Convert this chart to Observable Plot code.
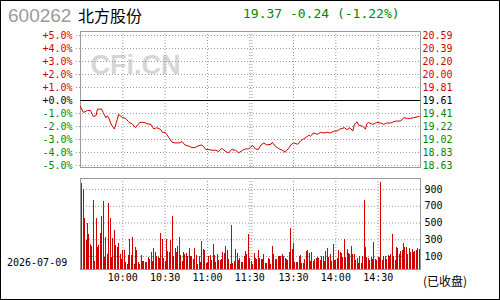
<!DOCTYPE html>
<html><head><meta charset="utf-8">
<script src="https://cdn.jsdelivr.net/npm/d3@7"></script>
<script src="https://cdn.jsdelivr.net/npm/@observablehq/plot@0.6"></script>
<style>
html,body{margin:0;padding:0;background:#fff;}
#root{position:relative;width:500px;height:300px;overflow:hidden;background:#fff;}
#border{position:absolute;left:0;top:0;width:500px;height:300px;box-sizing:border-box;border:1px solid #000;z-index:10;}
.abs{position:absolute;white-space:nowrap;line-height:1;}
</style></head><body>
<div id="root"><div id="border"></div></div>
<script>
// ---- data ----
const code = "600262";
const stockName = "北方股份";
const quote = "19.37 -0.24 (-1.22%)";
const dateLabel = "2026-07-09";
const closedLabel = "(已收盘)";
const prevClose = 19.61;

const pctTicks = [5, 4, 3, 2, 1, 0, -1, -2, -3, -4, -5];
const leftLabels = ["+5.0%", "+4.0%", "+3.0%", "+2.0%", "+1.0%", "+0.0%", "-1.0%", "-2.0%", "-3.0%", "-4.0%", "-5.0%"];
const rightLabels = ["20.59", "20.39", "20.20", "20.00", "19.81", "19.61", "19.41", "19.22", "19.02", "18.83", "18.63"];

const timeTicks = [30, 60, 90, 120, 151, 181, 211];
const timeLabels = ["10:00", "10:30", "11:00", "11:30", "13:30", "14:00", "14:30"];
const timeGrid = [30, 60, 90, 120, 121.5, 151, 181, 211];

const volTicks = [900, 700, 500, 300, 100];
const volLabels = ["900", "700", "500", "300", "100"];

// minute index (0 = 9:30) and price
const priceIdx = [0,2,5,7,9,11,12,15,16,18,19,20,22,24,26,27,30,32,34,37,39,42,45,47,50,52,54,57,58,60,63,65,67,70,72,74,77,79,81,84,86,89,91,93,96,98,100,103,105,107,110,112,115,117,119,122,124,126,128,130,132,135,136,138,141,143,145,148,149,151,154,156,158,161,162,163,164,165,168,170,172,175,177,180,182,184,187,189,191,193,194,195,196,197,200,202,203,204,207,209,210,213,215,217,220,222,224,227,229,232,234,236,240];
const prices = [19.52,19.43,19.46,19.46,19.37,19.38,19.48,19.48,19.43,19.35,19.38,19.35,19.24,19.18,19.32,19.40,19.35,19.34,19.29,19.25,19.20,19.28,19.28,19.26,19.25,19.18,19.20,19.17,19.13,19.13,19.04,18.98,18.97,18.97,18.99,18.94,18.92,18.90,18.90,18.93,18.94,18.87,18.87,18.86,18.86,18.84,18.89,18.84,18.82,18.87,18.86,18.82,18.86,18.88,18.88,18.93,18.88,18.87,18.94,18.97,18.94,18.95,18.98,18.92,18.88,18.86,18.83,18.90,18.94,18.97,18.95,19.00,19.03,19.07,19.09,19.07,19.09,19.12,19.10,19.13,19.12,19.13,19.12,19.15,19.15,19.18,19.20,19.17,19.20,19.15,19.24,19.27,19.29,19.24,19.22,19.18,19.26,19.28,19.25,19.27,19.28,19.27,19.25,19.27,19.27,19.29,19.30,19.30,19.35,19.34,19.34,19.35,19.37];

// per-minute volume (index = minute)
const volume = [
12,967,900,550,291,490,359,243,219,768,
40,550,211,231,371,577,757,92,323,120,
729,550,92,311,410,231,211,251,124,60,
172,172,30,5,112,299,112,327,5,211,
172,30,5,112,40,40,24,24,92,60,
151,40,195,151,100,92,80,371,303,72,
40,303,160,144,291,577,100,199,151,223,
327,112,40,144,128,132,104,191,100,100,
60,195,112,5,100,24,279,183,172,12,
24,100,112,52,243,112,24,124,52,48,
60,144,132,219,172,64,5,470,20,40,
183,136,52,72,24,24,96,160,124,359,
80,40,
0,140,80,60,172,80,64,64,124,20,
20,72,64,4,219,124,64,60,104,100,
100,124,100,72,64,50,148,438,183,251,
24,24,24,104,112,20,20,64,164,172,
132,44,144,44,64,80,84,80,52,104,
100,44,160,191,84,124,44,243,52,52,
72,172,144,140,84,303,84,183,132,124,
219,124,124,52,72,20,100,20,100,768,
211,92,72,52,92,60,271,60,52,92,
92,987,52,100,100,64,112,104,124,363,
100,52,211,191,124,160,172,251,203,211,
124,199,144,183,150,160,170,200,183
];

// ---- style ----
const RED = "#d00000", GREEN = "#008800", GRID = "#999", FRAME = "#999";
const MONO = "'DejaVu Sans Mono', monospace";
const pctMin = -5.154, pctMax = 5.308;
const volMin = -55, volMax = 1031;

const root = document.getElementById("root");
function addText(txt, css) {
  const d = document.createElement("div");
  d.className = "abs";
  d.textContent = txt;
  Object.assign(d.style, css);
  root.appendChild(d);
}
function place(svg, top) {
  svg.style.position = "absolute";
  svg.style.left = "0px";
  svg.style.top = top + "px";
  svg.style.background = "transparent";
  svg.style.overflow = "visible";
  root.appendChild(svg);
}

const lab = (ticks, labels) => d => labels[ticks.indexOf(d)];
const pos = pctTicks.filter(d => d > 0), zero = [0], neg = pctTicks.filter(d => d < 0);
const priceData = priceIdx.map((i, k) => ({i, pct: (prices[k] / prevClose - 1) * 100}));
const ax = {tickSize: 0, label: null};

const pricePlot = Plot.plot({
  width: 500, height: 172,
  marginLeft: 80, marginRight: 80, marginTop: 31, marginBottom: 5,
  x: {domain: [0, 241], axis: null, label: null},
  y: {domain: [pctMin, pctMax], axis: null, label: null},
  style: {fontFamily: MONO, fontSize: "10px", background: "transparent", overflow: "visible"},
  marks: [
    Plot.text(["CFi.CN"], {frameAnchor: "top-left", textAnchor: "start", lineAnchor: "top", dx: 10, dy: 23,
      fontSize: 27, fontWeight: "bold", fontFamily: "'Liberation Sans', Arial, sans-serif", fill: "#d6d6d6", letterSpacing: 1}),
    Plot.ruleY(pctTicks.filter(d => d !== 0), {stroke: GRID, strokeDasharray: "1,2", insetLeft: -4}),
    Plot.ruleX(timeGrid, {stroke: GRID, strokeDasharray: "1,2"}),
    Plot.frame({stroke: FRAME}),
    Plot.ruleY(zero, {stroke: "#000"}),
    Plot.line(priceData, {x: "i", y: "pct", stroke: RED, strokeWidth: 1}),
    Plot.axisY({...ax, anchor: "left", ticks: pos, tickPadding: 8, tickFormat: lab(pctTicks, leftLabels), fill: RED}),
    Plot.axisY({...ax, anchor: "left", ticks: zero, tickPadding: 8, tickFormat: lab(pctTicks, leftLabels), fill: "#000"}),
    Plot.axisY({...ax, anchor: "left", ticks: neg, tickPadding: 8, tickFormat: lab(pctTicks, leftLabels), fill: GREEN}),
    Plot.axisY({...ax, anchor: "right", ticks: pos, tickPadding: 2, tickFormat: lab(pctTicks, rightLabels), fill: RED}),
    Plot.axisY({...ax, anchor: "right", ticks: zero, tickPadding: 2, tickFormat: lab(pctTicks, rightLabels), fill: "#000"}),
    Plot.axisY({...ax, anchor: "right", ticks: neg, tickPadding: 2, tickFormat: lab(pctTicks, rightLabels), fill: GREEN})
  ]
});
place(pricePlot, 0);

const volPlot = Plot.plot({
  width: 500, height: 128,
  marginLeft: 80, marginRight: 80, marginTop: 6, marginBottom: 31,
  x: {domain: [0, 241], axis: null, label: null},
  y: {domain: [volMin, volMax], axis: null, label: null},
  style: {fontFamily: MONO, fontSize: "10px", background: "transparent", overflow: "visible"},
  marks: [
    Plot.ruleY(volTicks, {stroke: GRID, strokeDasharray: "1,2"}),
    Plot.ruleX(timeGrid, {stroke: GRID, strokeDasharray: "1,2"}),
    Plot.ruleX(volume, {x: (d, i) => i, y1: volMin, y2: d => d, stroke: RED, strokeWidth: 1, shapeRendering: "crispEdges"}),
    Plot.frame({stroke: FRAME}),
    Plot.axisY({...ax, anchor: "right", ticks: volTicks, tickPadding: 4, tickFormat: lab(volTicks, volLabels), fill: "#000"}),
    Plot.axisX({...ax, anchor: "bottom", ticks: timeTicks, tickPadding: 4, tickFormat: lab(timeTicks, timeLabels), fill: "#000"})
  ]
});
place(volPlot, 172);

addText(code, {left: "8px", top: "6px", fontFamily: "'Liberation Sans', Arial, sans-serif", fontSize: "19px", color: "#9a9a9a"});
addText(stockName, {left: "78px", top: "7px", fontFamily: "'Noto Sans CJK SC', sans-serif", fontSize: "16px", color: "#000"});
addText(quote, {left: "243px", top: "7px", fontFamily: MONO, fontSize: "13px", color: GREEN});
addText(dateLabel, {left: "7px", top: "258px", fontFamily: MONO, fontSize: "10px", color: "#000"});
addText(closedLabel, {left: "423px", top: "275px", fontFamily: "'Noto Sans CJK SC', sans-serif", fontSize: "12px", color: "#000"});
</script>
</body></html>
